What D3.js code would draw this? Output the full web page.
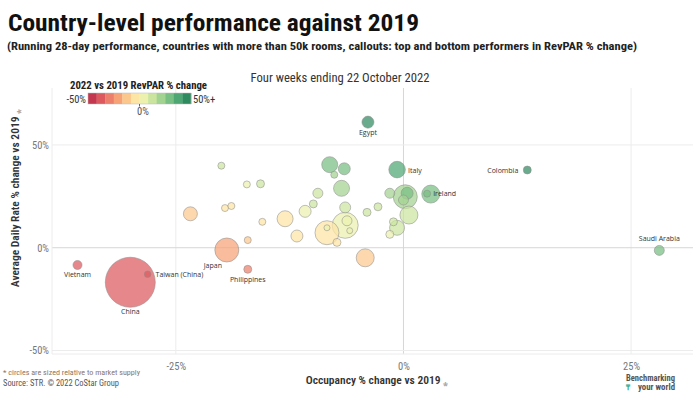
<!DOCTYPE html>
<html><head><meta charset="utf-8">
<script src="https://cdn.jsdelivr.net/npm/d3@7"></script>
<style>
body{margin:0;background:#fff;}
svg{display:block;font-family:"Liberation Sans Narrow","Roboto Condensed","Open Sans",Roboto,sans-serif;}
</style></head>
<body><svg id="c" width="700" height="394"></svg>
<script>
// ---- data ----
const countries = ["Egypt","Italy","Ireland","","Colombia","Saudi Arabia","Vietnam","China","Taiwan (China)","Japan","Philippines",
  "","","","","","","","","","","","","","","","","","","","","","","","","","","","","","","","","","",""];
const occupancy = [-3.9,-0.7,2.6,3.0,13.6,28.1,-35.8,-30.0,-28.1,-19.4,-17.1,
  -20.0,-17.2,-15.7,-19.6,-18.9,-23.4,-15.5,-17.1,-13.0,-11.7,-10.8,-9.9,-9.4,-8.1,-7.6,-6.5,-6.8,-6.4,-8.4,-8.4,-7.3,-6.4,-6.2,-5.9,-4.2,-4.0,-2.8,-1.5,0.2,0.4,0.0,0.6,-1.1,-0.7,-1.5];
const adr = [61.1,38.0,26.3,26.1,37.8,-1.3,-8.4,-16.8,-12.9,-1.1,-10.5,
  39.9,30.8,31.1,19.3,20.3,16.5,12.6,3.7,14.1,5.7,17.7,21.3,26.5,40.4,35.5,38.4,28.9,19.6,7.3,9.7,2.6,10.9,13.1,8.3,-4.9,17.2,19.9,26.5,24.8,26.5,23.2,15.9,12.6,9.7,6.5];
const revpar = [54.8,37.0,29.6,29.9,56.5,26.4,-41.2,-40.5,-37.4,-20.3,-25.8,
  11.9,8.0,10.5,-4.1,-2.4,-10.8,-4.9,-14.0,-0.7,-6.7,5.0,9.3,14.6,29.0,24.0,29.4,20.1,11.9,-1.7,0.5,-4.9,3.8,6.1,1.9,-8.9,12.5,16.5,24.6,24.9,27.0,23.2,16.0,11.4,8.9,4.9];
const supply = [147,280,50,331,65,102,83,2550,45,588,65,
  50,50,65,50,50,200,50,50,261,147,147,65,102,261,50,147,261,123,588,37,65,690,102,37,331,65,65,102,588,147,102,331,65,230,65];
const xTicks = [-25,0,25];
const yTicks = [-50,0,50];
const legendColors = ['#c4384f','#dc5a5e','#eb7f6b','#f6a276','#fcc78d','#fde5a5','#ecf1ae','#cbe59f','#a3d390','#77bf82','#4ea773','#2f8a5f'];

// label placement (layout, not data)
const labelPos = {
  "Egypt":{dx:0,dy:13,a:"middle"},
  "Italy":{dx:11,dy:3,a:"start"},
  "Ireland":{dx:6,dy:2.5,a:"start"},
  "Colombia":{dx:-9,dy:2.5,a:"end"},
  "Saudi Arabia":{dx:0,dy:-9,a:"middle"},
  "Vietnam":{dx:0,dy:12.5,a:"middle"},
  "China":{dx:0,dy:32,a:"middle"},
  "Taiwan (China)":{dx:8,dy:2.5,a:"start"},
  "Japan":{dx:-14,dy:18,a:"middle"},
  "Philippines":{dx:0,dy:13,a:"middle"}
};

const svg = d3.select("#c");
const x = d3.scaleLinear().domain([-38.6,31.8]).range([52,693]);
const y = d3.scaleLinear().domain([-51.7,77.7]).range([354,88]);
const r = d3.scaleSqrt().domain([0,2550]).range([0,25]);
const color = d3.scaleQuantize().domain([-50,50]).range(legendColors);

function fitText(sel, w){ sel.attr("textLength", w).attr("lengthAdjust","spacingAndGlyphs"); }

// titles
svg.append("text").attr("x",8).attr("y",31).attr("font-size",24).attr("font-weight",700).attr("fill","#111")
  .text("Country-level performance against 2019").call(fitText,411);
svg.append("text").attr("x",7).attr("y",50).attr("font-size",11.5).attr("font-weight",700).attr("fill","#222")
  .text("(Running 28-day performance, countries with more than 50k rooms, callouts: top and bottom performers in RevPAR % change)").call(fitText,630);

// grid
const g = svg.append("g");
g.selectAll(".vx").data(xTicks).join("line")
  .attr("x1",d=>x(d)).attr("x2",d=>x(d)).attr("y1",88).attr("y2",354)
  .attr("stroke",d=>d===0?"#d6d6d6":"#ececec").attr("stroke-width",1);
g.selectAll(".hy").data(yTicks).join("line")
  .attr("y1",d=>y(d)).attr("y2",d=>y(d)).attr("x1",52).attr("x2",693)
  .attr("stroke",d=>d===0?"#d6d6d6":"#ececec").attr("stroke-width",1);
g.append("line").attr("x1",52).attr("x2",52).attr("y1",88).attr("y2",354).attr("stroke","#ececec");
g.append("line").attr("x1",52).attr("x2",693).attr("y1",354).attr("y2",354).attr("stroke","#ececec");

// axes
const xAxis = svg.append("g").attr("transform","translate(0,354)")
  .call(d3.axisBottom(x).tickValues(xTicks).tickSize(0).tickPadding(9).tickFormat(d=>d+"%"));
const yAxis = svg.append("g").attr("transform","translate(52,0)")
  .call(d3.axisLeft(y).tickValues(yTicks).tickSize(0).tickPadding(3).tickFormat(d=>d+"%"));
[xAxis,yAxis].forEach(a=>{ a.select(".domain").remove(); a.selectAll("text").attr("font-size",10.5).attr("fill","#777")
  .attr("font-family","'Liberation Sans Narrow','Roboto Condensed','Open Sans',sans-serif"); });

svg.append("text").attr("x",377).attr("y",384).attr("text-anchor","middle").attr("font-size",11.5).attr("font-weight",600).attr("fill","#333")
  .text("Occupancy % change vs 2019 ").append("tspan").attr("fill","#aaa").attr("font-size",9).text("⁎");
svg.append("text").attr("transform","translate(19,198) rotate(-90)").attr("text-anchor","middle").attr("font-size",11.5).attr("font-weight",600).attr("fill","#333")
  .text("Average Daily Rate % change vs 2019 ").append("tspan").attr("fill","#aaa").attr("font-size",9).text("⁎");

svg.append("text").attr("x",340).attr("y",82).attr("text-anchor","middle").attr("font-size",12.5).attr("fill","#333")
  .text("Four weeks ending 22 October 2022").call(fitText,179);

// points
const pts = occupancy.map((o,i)=>({name:countries[i],occ:o,adr:adr[i],rev:revpar[i],sup:supply[i]}))
  .sort((a,b)=>b.sup-a.sup);
svg.append("g").selectAll("circle").data(pts).join("circle")
  .attr("cx",d=>x(d.occ)).attr("cy",d=>y(d.adr)).attr("r",d=>r(d.sup))
  .attr("fill",d=>color(d.rev)).attr("fill-opacity",0.72)
  .attr("stroke","#8c8c8c").attr("stroke-opacity",0.6).attr("stroke-width",0.9);

svg.append("g").selectAll("text").data(pts.filter(d=>d.name)).join("text")
  .attr("x",d=>x(d.occ)+labelPos[d.name].dx).attr("y",d=>y(d.adr)+labelPos[d.name].dy)
  .attr("text-anchor",d=>labelPos[d.name].a)
  .attr("font-family","'Open Sans',sans-serif").attr("font-size",7).attr("fill","#333")
  .text(d=>d.name);

// legend
const lx = d3.scaleLinear().domain([0,legendColors.length]).range([88,191]);
svg.append("text").attr("x",70).attr("y",89).attr("font-size",11).attr("font-weight",700).attr("fill","#222")
  .text("2022 vs 2019 RevPAR % change").call(fitText,137);
svg.append("g").selectAll("rect").data(legendColors).join("rect")
  .attr("x",(d,i)=>lx(i)).attr("y",93).attr("width",(d,i)=>lx(i+1)-lx(i)+0.3).attr("height",11).attr("fill",d=>d);
svg.append("rect").attr("x",88).attr("y",93).attr("width",103).attr("height",11).attr("fill","none").attr("stroke","#bbb").attr("stroke-width",0.5);
svg.append("line").attr("x1",139.5).attr("x2",139.5).attr("y1",104).attr("y2",106.5).attr("stroke","#666");
svg.append("text").attr("x",86).attr("y",102.5).attr("text-anchor","end").attr("font-size",10.5).attr("fill","#333").text("-50%");
svg.append("text").attr("x",193).attr("y",102.5).attr("font-size",10.5).attr("fill","#333").text("50%+");
svg.append("text").attr("x",143).attr("y",114.5).attr("text-anchor","middle").attr("font-size",10.5).attr("fill","#555").text("0%");

// footer
svg.append("text").attr("x",3).attr("y",375).attr("font-size",8).attr("fill","#8a7566")
  .text("* circles are sized relative to market supply").call(fitText,137);
svg.append("text").attr("x",3).attr("y",386).attr("font-size",8.5).attr("fill","#555")
  .text("Source: STR. © 2022 CoStar Group").call(fitText,116);
svg.append("text").attr("x",626).attr("y",380.5).attr("font-size",8.5).attr("font-weight",700).attr("fill","#555")
  .text("Benchmarking").call(fitText,49);
svg.append("text").attr("x",638).attr("y",390).attr("font-size",8.5).attr("font-weight",700).attr("fill","#555")
  .text("your world").call(fitText,37);
svg.append("text").attr("x",626).attr("y",390).attr("font-size",7.5).attr("font-weight",700).attr("fill","#1fa37f").text("₸");
</script></body></html>
